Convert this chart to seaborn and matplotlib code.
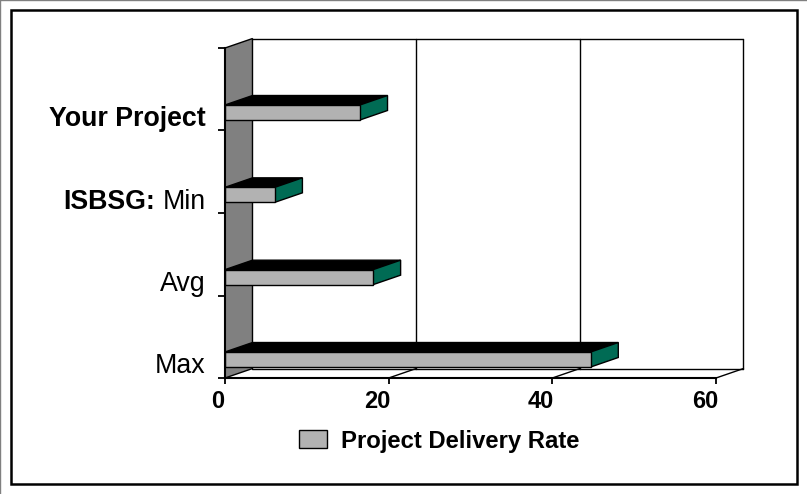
import numpy as np
import pandas as pd
import matplotlib
matplotlib.use("Agg")
import matplotlib.pyplot as plt
import matplotlib.transforms as mtrans
from matplotlib.lines import Line2D
from matplotlib.patches import Polygon, Rectangle
import seaborn as sns

# valores
categorias = ["Your Project", "Min", "Avg", "Max"]
valores = [16.5, 6.1, 18.1, 44.7]
serie = "Project Delivery Rate"
ticks_x = [0, 20, 40, 60]

GRIS_BARRA = "#b2b2b2"
GRIS_PARED = "#808080"
VERDE = "#006b54"

sns.set_theme(style="white")
plt.rcParams["font.family"] = ["Liberation Sans", "DejaVu Sans"]

df = pd.DataFrame({"categoria": categorias, "valor": valores, "serie": serie})

fig = plt.figure(figsize=(8.07, 4.94), dpi=100)
ax = fig.add_axes([225 / 807, 116 / 494, 491 / 807, 330 / 494])

sns.barplot(data=df, y="categoria", x="valor", hue="serie", order=categorias,
            palette=[GRIS_BARRA], width=0.182, saturation=1,
            edgecolor="black", linewidth=1, zorder=5, ax=ax)

y_abajo, y_arriba = 3.225, -0.783
prof_x, prof_y = 3.36, -0.115  # profundidad del efecto 3D
ax.set_xlim(0, 60)
ax.set_ylim(y_abajo, y_arriba)

# pared lateral y fondo
ax.add_patch(Polygon([(0, y_arriba), (prof_x, y_arriba + prof_y), (prof_x, y_abajo + prof_y), (0, y_abajo)],
                     facecolor=GRIS_PARED, edgecolor="black", lw=1, clip_on=False, zorder=2))
for x in ticks_x[1:]:
    ax.plot([x + prof_x] * 2, [y_arriba + prof_y, y_abajo + prof_y], color="black", lw=1, clip_on=False, zorder=1)
    ax.plot([x, x + prof_x], [y_abajo, y_abajo + prof_y], color="black", lw=1, clip_on=False, zorder=1)
ax.plot([prof_x, 60 + prof_x], [y_arriba + prof_y] * 2, color="black", lw=1, clip_on=False, zorder=1)
ax.plot([prof_x, 60 + prof_x], [y_abajo + prof_y] * 2, color="black", lw=1, clip_on=False, zorder=1)

# caras superior y lateral de cada barra
for bar in ax.patches:
    if not isinstance(bar, Rectangle):
        continue
    x1 = bar.get_width()
    y0, y1 = bar.get_y(), bar.get_y() + bar.get_height()
    ax.add_patch(Polygon([(0, y0), (prof_x, y0 + prof_y), (x1 + prof_x, y0 + prof_y), (x1, y0)],
                         facecolor="black", edgecolor="black", lw=1, clip_on=False, zorder=4))
    ax.add_patch(Polygon([(x1, y0), (x1 + prof_x, y0 + prof_y), (x1 + prof_x, y1 + prof_y), (x1, y1)],
                         facecolor=VERDE, edgecolor="black", lw=1, clip_on=False, zorder=4))

# ejes
sns.despine(ax=ax, top=True, right=True)
for lado in ["left", "bottom"]:
    ax.spines[lado].set_linewidth(1.5)
    ax.spines[lado].set_color("black")
    ax.spines[lado].set_zorder(6)
ax.set_xlabel("")
ax.set_ylabel("")
ax.set_xticks(ticks_x)
ax.set_xticklabels([str(t) for t in ticks_x], fontsize=17, fontweight="bold", color="black", ha="right")
ax.tick_params(axis="x", length=4.5, width=1.3, color="black", pad=4, bottom=True)
ax.set_yticks(range(len(categorias)))
ax.set_yticklabels(categorias, fontsize=19.3, color="black", va="center_baseline")
ax.tick_params(axis="y", which="major", length=0, pad=13.8)
ax.set_yticks(np.linspace(y_arriba, y_abajo, 5), minor=True)
ax.tick_params(axis="y", which="minor", length=5, width=1.3, color="black", left=True)
ax.get_yticklabels()[0].set_fontweight("bold")
baja = mtrans.ScaledTranslation(0, -4 / 100, fig.dpi_scale_trans)
for lab in ax.get_yticklabels():
    lab.set_transform(lab.get_transform() + baja)
for i, lab in enumerate(ax.get_xticklabels()):
    # el 0 queda algo mas separado de su marca
    mover = mtrans.ScaledTranslation((-1 if i == 0 else 2) / 100, 0, fig.dpi_scale_trans)
    lab.set_transform(lab.get_transform() + mover)
ax.annotate("ISBSG:", xy=(0, 1), xycoords=("axes fraction", "data"), xytext=(-50, -2.9), textcoords="offset points",
            ha="right", va="center_baseline", fontsize=19.3, fontweight="bold", color="black")

# leyenda
sns.move_legend(ax, "center", bbox_to_anchor=(439.5 / 807, (494 - 441) / 494), bbox_transform=fig.transFigure,
                title=None, frameon=False, prop={"weight": "bold", "size": 17.2},
                handlelength=1.17, handleheight=0.75, handletextpad=0.6)
for t in ax.get_legend().get_texts():
    t.set_color("black")

# marco exterior y borde gris de la captura
fig.add_artist(Rectangle((10.5 / 807, 10.5 / 494), 786 / 807, 473 / 494, transform=fig.transFigure,
                         fill=False, edgecolor="black", lw=1.8))
fig.add_artist(Line2D([0, 1], [0.999, 0.999], color=GRIS_PARED, lw=1, transform=fig.transFigure))
fig.add_artist(Line2D([0.0006, 0.0006], [0, 1], color=GRIS_PARED, lw=1, transform=fig.transFigure))

fig.savefig("out.png", dpi=100)
